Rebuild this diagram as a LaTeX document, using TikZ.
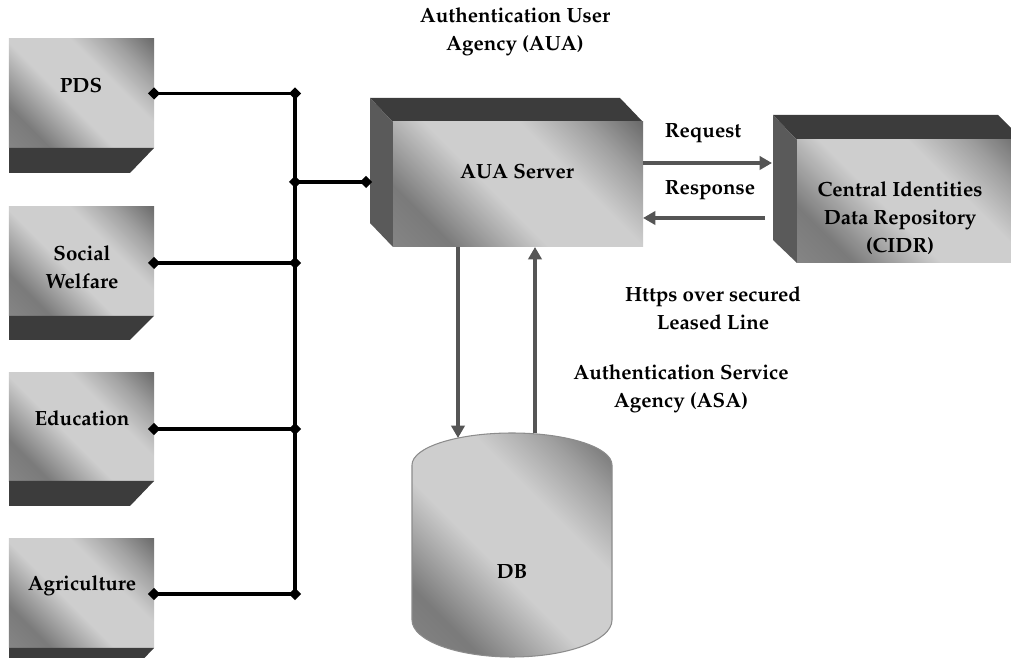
\documentclass[tikz,border=0pt]{standalone}
\usepackage[T1]{fontenc}
\usepackage{mathpazo}
\usepackage{tikz}
\usetikzlibrary{arrows.meta,shapes.geometric}

\definecolor{facelight}{HTML}{CECECE}
\definecolor{facedark}{HTML}{686868}
\definecolor{topgray}{HTML}{3C3C3C}
\definecolor{sidegray}{HTML}{5A5A5A}
\definecolor{flowgray}{HTML}{555555}

% diagonal grey sheen of the box faces
\pgfdeclarehorizontalshading{facesheen}{100bp}{%
  color(0bp)=(facedark!70!facelight); color(15bp)=(facedark!72!facelight);
  color(26bp)=(facedark!82!facelight); color(44bp)=(facelight);
  color(62bp)=(facelight); color(74bp)=(facedark!45!facelight);
  color(86bp)=(facedark); color(100bp)=(facedark)}

\begin{document}
\begin{tikzpicture}[
  x=0.2mm, y=-0.2mm,
  face/.style={shading=facesheen, shading angle=45, inner sep=0pt, outer sep=0pt},
  lbl/.style={font=\fontsize{11.7}{16}\selectfont\bfseries, align=center, inner sep=0pt},
  dot/.style={diamond, fill=black, inner sep=0pt, minimum size=7pt},
  wire/.style={line width=2.1pt},
  flow/.style={draw=flowgray, line width=2.3pt, -{Triangle[length=7pt,width=7.5pt]}}
]
\useasboundingbox (0,0) rectangle (1011,658);

% Departments on the left
\node[face, minimum width=29mm, minimum height=21.8mm] (pds) at (81.5,93.5) {};
\fill[topgray] (9,148) -- (154,148) -- (130,173) -- (9,173) -- cycle;
\node[lbl] at (81,85) {PDS};

\node[face, minimum width=29mm, minimum height=21.8mm] (sw) at (81.5,261) {};
\fill[topgray] (9,316) -- (154,316) -- (130,340) -- (9,340) -- cycle;
\node[lbl] at (82,267) {Social\\Welfare};

\node[face, minimum width=29mm, minimum height=21.8mm] (edu) at (81.5,427) {};
\fill[topgray] (9,481) -- (154,481) -- (130,506) -- (9,506) -- cycle;
\node[lbl] at (82,418) {Education};

\node[face, minimum width=29mm, minimum height=21.8mm] (agri) at (81.5,593) {};
\fill[topgray] (9,648) -- (154,648) -- (130,673) -- (9,673) -- cycle;
\node[lbl] at (82,586) {Agriculture};

% AUA server box
\fill[topgray] (370,98) -- (620,98) -- (643,122) -- (393,122) -- cycle;
\fill[sidegray] (370,98) -- (393,122) -- (393,247) -- (370,223) -- cycle;
\node[face, minimum width=50mm, minimum height=25mm] (aua) at (518,184.5) {};
\node[lbl] at (517,171) {AUA Server};
\node[lbl] at (515,32) {Authentication User\\Agency (AUA)};

% CIDR box
\fill[topgray] (773,115) -- (998,115) -- (1023,140) -- (797,140) -- cycle;
\fill[sidegray] (773,115) -- (797,140) -- (797,263) -- (773,240) -- cycle;
\node[face, minimum width=45.2mm, minimum height=24.6mm] (cidr) at (910,201.5) {};
\node[lbl] at (900,218) {Central Identities\\Data Repository\\(CIDR)};

% DB cylinder
\path[face, draw=black!45, line width=0.6pt] (412,465)
  arc[start angle=180, end angle=360, x radius=100, y radius=32] -- (612,620)
  arc[start angle=0, end angle=180, x radius=100, y radius=37] -- cycle;
\node[lbl] (db) at (512,572) {DB};

% bus joining the departments
\coordinate (bus) at (295,0);
\node[dot] (pdsd) at (pds.east) {};
\node[dot] (swd) at (sw.east |- 0,263) {};
\node[dot] (edud) at (edu.east |- 0,429) {};
\node[dot] (agrid) at (agri.east |- 0,594) {};
\node[dot] (auad) at (366,182) {};
\node[dot] (b1) at (pdsd -| bus) {};
\node[dot] (b2) at (auad -| bus) {};
\node[dot] (b3) at (swd -| bus) {};
\node[dot] (b4) at (edud -| bus) {};
\node[dot] (b5) at (agrid -| bus) {};
\draw[wire] (b1.center) -- (b5.center);
\draw[wire] (pdsd.center) -- (b1.center);
\draw[wire] (swd.center) -- (b3.center);
\draw[wire] (edud.center) -- (b4.center);
\draw[wire] (agrid.center) -- (b5.center);
\draw[wire] (b2.center) -- (auad.center);

% request / response
\coordinate (cidrin) at (772,163);
\coordinate (cidrout) at (765,218);
\draw[flow] (aua.east |- cidrin) -- (cidrin);
\draw[flow] (cidrout) -- (aua.east |- cidrout);
\node[lbl] at (703,133) {Request};
\node[lbl] at (710,190) {Response};
\node[lbl] at (713,308) {Https over secured\\Leased Line};

% database access
\coordinate (dbin) at (458,438);
\coordinate (dbout) at (535,433);
\draw[flow] (aua.south -| dbin) -- (dbin);
\draw[flow] (dbout) -- (aua.south -| dbout);
\node[lbl] at (681,389) {Authentication Service\\Agency (ASA)};
\end{tikzpicture}
\end{document}
